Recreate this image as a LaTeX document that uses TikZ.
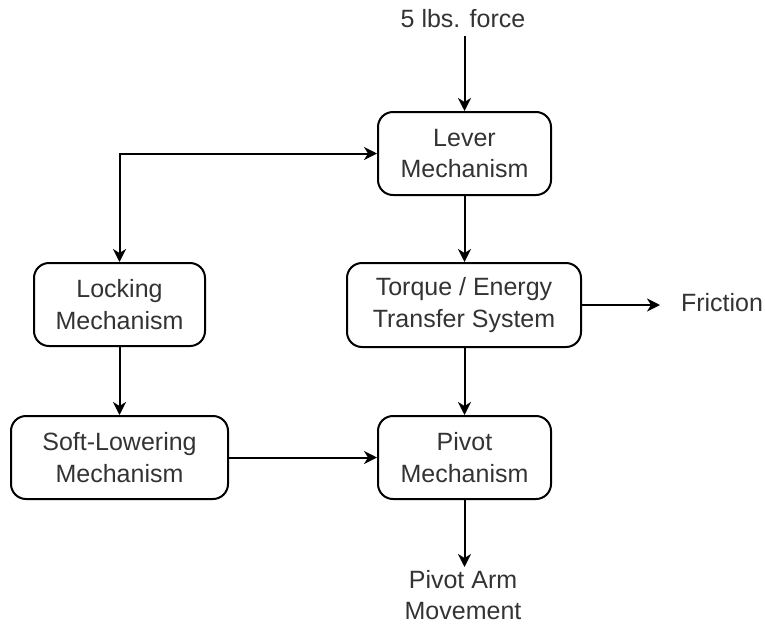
\documentclass[tikz,border=0pt]{standalone}
\usepackage{fontspec}
\setmainfont{Liberation Sans}
\usetikzlibrary{arrows.meta}
\definecolor{txt}{HTML}{333333}
\tikzset{
  box/.style={draw=black, line width=2pt, rounded corners=15pt, align=center,
    text=txt, inner sep=0pt, font=\fontsize{25}{31.5}\selectfont},
  lbl/.style={align=center, text=txt, inner sep=0pt, font=\fontsize{25}{31.5}\selectfont},
  conn/.style={line width=2pt, draw=black, -{Stealth[length=13pt,width=13pt,inset=4pt]}},
  conn2/.style={line width=2pt, draw=black, {Stealth[length=13pt,width=13pt,inset=4pt]}-{Stealth[length=13pt,width=13pt,inset=4pt]}}
}
\begin{document}
\begin{tikzpicture}[x=1pt,y=-1pt]
\useasboundingbox (0,0) rectangle (765,627);
\node[box, minimum width=173pt, minimum height=83pt] (lever) at (464.5,153.5) {Lever\\Mechanism};
\node[box, minimum width=171pt, minimum height=83pt] (locking) at (119.5,304.5) {Locking\\Mechanism};
\node[box, minimum width=234pt, minimum height=84pt] (torque) at (464,305) {Torque / Energy\\Transfer System};
\node[box, minimum width=217pt, minimum height=83pt] (soft) at (119.5,457.5) {Soft-Lowering\\Mechanism};
\node[box, minimum width=173pt, minimum height=83pt] (pivot) at (464.5,457.5) {Pivot\\Mechanism};
\node[lbl] (force) at (463,19) {5 lbs. force};
\node[lbl] (friction) at (722,303) {Friction};
\node[lbl] (movement) at (463,595) {Pivot Arm\\Movement};
\coordinate (forceend) at (464.5,36);
\coordinate (frictionend) at (660,305);
\coordinate (moveend) at (464.5,567);
\draw[conn] (forceend) -- (lever.north);
\draw[conn2] (lever.west) -| (locking.north);
\draw[conn] (lever.south) -- (lever.south |- torque.north);
\draw[conn] (torque.east) -- (frictionend);
\draw[conn] (torque.south -| pivot.north) -- (pivot.north);
\draw[conn] (locking.south) -- (soft.north);
\draw[conn] (soft.east) -- (pivot.west);
\draw[conn] (pivot.south) -- (moveend);
\end{tikzpicture}
\end{document}
